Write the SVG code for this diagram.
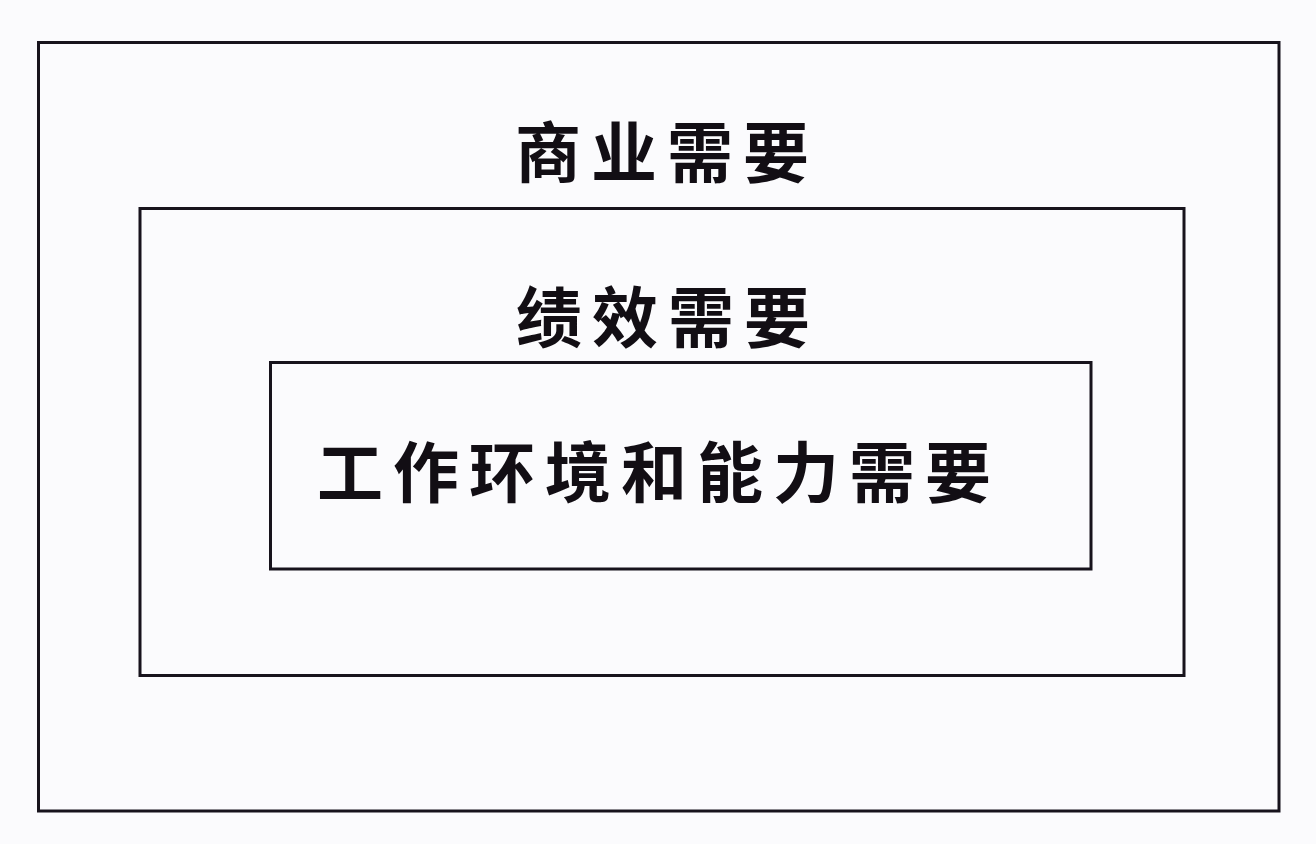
<svg xmlns="http://www.w3.org/2000/svg" width="1316" height="844" viewBox="0 0 1316 844">
<style>
.box{fill:none;stroke:#17131c;stroke-width:3}
.lbl{font-family:"Noto Sans CJK SC","Noto Sans CJK TC",sans-serif;font-weight:bold;fill:#120e14;text-anchor:middle;font-size:66px;letter-spacing:10px}
</style>
<rect width="1316" height="844" fill="#fbfbfd"/>
<g id="business">
<rect class="box" x="38.5" y="42.5" width="1240.5" height="768.5"/>
<text class="lbl" x="667" y="177">商业需要</text>
</g>
<g id="performance">
<rect class="box" x="140" y="208.5" width="1044" height="467"/>
<text class="lbl" x="668" y="342">绩效需要</text>
</g>
<g id="environment">
<rect class="box" x="270.5" y="362.5" width="820.5" height="206.5"/>
<text class="lbl" x="659" y="497">工作环境和能力需要</text>
</g>
<g id="connectors"/>
</svg>
